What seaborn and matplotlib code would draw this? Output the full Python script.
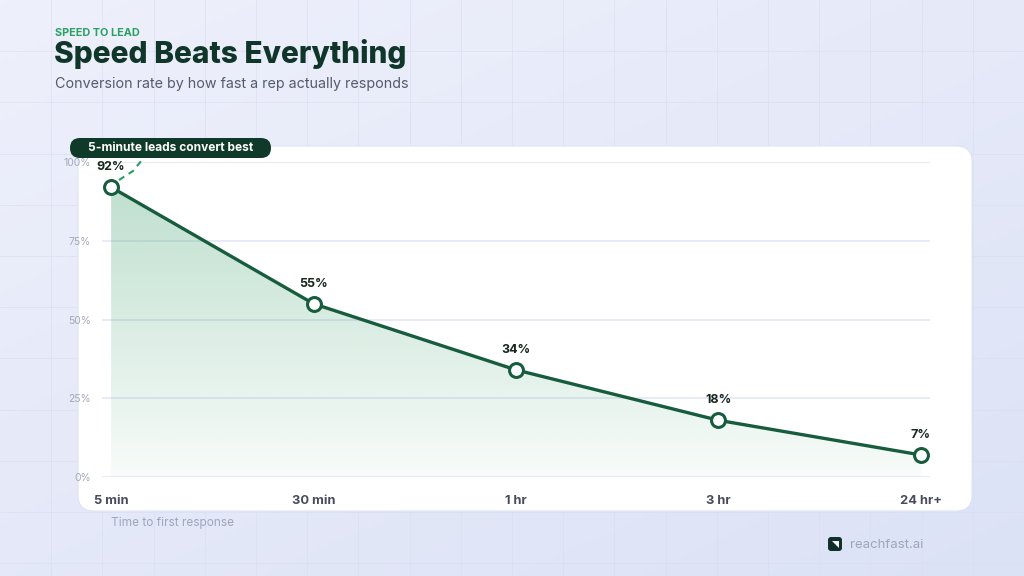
import numpy as np
import pandas as pd
import seaborn as sns
import matplotlib.pyplot as plt
from matplotlib.patches import FancyBboxPatch, Polygon
from matplotlib.colors import to_rgb

# data
times = ['5 min', '30 min', '1 hr', '3 hr', '24 hr+']
conversion = [92, 55, 34, 18, 7]
y_ticks = [0, 25, 50, 75, 100]

df = pd.DataFrame({'pos': range(len(times)), 'time': times, 'rate': conversion})

sns.set_theme(style='white')
plt.rcParams['font.family'] = ['Inter', 'DejaVu Sans']

W, H = 1024, 576
fig = plt.figure(figsize=(W / 100, H / 100), dpi=100)


def px_ax(z):
    a = fig.add_axes([0, 0, 1, 1], zorder=z)
    a.set_xlim(0, W)
    a.set_ylim(H, 0)
    a.axis('off')
    a.patch.set_alpha(0)
    return a


# background: soft gradient + faint grid
bg = px_ax(0)
gx, gy = np.meshgrid(np.linspace(0, 1, 200), np.linspace(0, 1, 120))
t = (gx * 0.45 + gy * 0.55)
c0, c1 = np.array(to_rgb('#eef0fb')), np.array(to_rgb('#dce2f6'))
grad = c0 + (c1 - c0) * t[..., None]
bg.imshow(grad, extent=(0, W, H, 0), aspect='auto', zorder=0)
for gxp in np.arange(51.2, W, 51.2):
    bg.axvline(gxp, color='#d9ddf2', lw=0.6, alpha=0.7, zorder=1)
for gyp in np.arange(51.2, H, 51.2):
    bg.axhline(gyp, color='#d9ddf2', lw=0.6, alpha=0.7, zorder=1)

# white card
card = FancyBboxPatch((78, 146), 894, 365, boxstyle='round,pad=0,rounding_size=16',
                      fc='white', ec='#dfe3f5', lw=0.8, zorder=2)
bg.add_patch(card)

# headings
bg.text(55, 33, 'SPEED TO LEAD', color='#27a062', fontsize=7.8, fontweight='bold', va='center', zorder=3)
bg.text(54, 54, 'Speed Beats Everything', color='#10362a', fontsize=21.5, fontweight='heavy',
        va='center', zorder=3)
bg.text(55, 84, 'Conversion rate by how fast a rep actually responds', color='#545b6b',
        fontsize=10.3, va='center', zorder=3)
bg.text(111, 523, 'Time to first response', color='#9ea6bd', fontsize=8.5, va='center', zorder=3)

# watermark
bg.add_patch(FancyBboxPatch((828, 537), 14, 14, boxstyle='round,pad=0,rounding_size=3',
                            fc='#10302a', ec='none', zorder=3))
bg.add_patch(Polygon([(832, 541), (839, 541), (839, 548)], closed=True, fc='white', ec='none', zorder=4))
bg.text(850, 545, 'reachfast.ai', color='#9ea6bd', fontsize=9.5, va='center', zorder=3)

# main chart
left, right, top, bottom = 102, 930, 162, 477
ax = fig.add_axes([left / W, 1 - bottom / H, (right - left) / W, (bottom - top) / H], zorder=2)
ax.patch.set_alpha(0)

line_c = '#175c3d'
xs = df['pos'].to_numpy()
ys = df['rate'].to_numpy()

# gradient fill under line
gv = np.linspace(0, 1, 256)[:, None]
green = np.array(to_rgb('#3c9f6c'))
img = np.zeros((256, 1, 4))
img[..., :3] = green
img[..., 3] = 0.04 + 0.31 * gv
ax_img = ax.imshow(img, extent=(xs[0], xs[-1], 0, 100), origin='lower', aspect='auto', zorder=1)
clip = Polygon(np.column_stack([np.r_[xs, xs[-1], xs[0]], np.r_[ys, 0, 0]]), closed=True,
               transform=ax.transData, fc='none', ec='none')
ax.add_patch(clip)
ax_img.set_clip_path(clip)

sns.lineplot(data=df, x='pos', y='rate', ax=ax, color=line_c, lw=2.4, marker='o', markersize=10,
             markerfacecolor='white', markeredgecolor=line_c, markeredgewidth=2.2, zorder=4, clip_on=False)

for x, y in zip(xs, ys):
    ax.annotate(f'{y}%', (x, y), xytext=(0, 14.5), textcoords='offset points', ha='center', va='center',
                fontsize=9, fontweight='bold', color='#16261d', zorder=5)

ax.set_xlim(-0.045, 4.045)
ax.set_ylim(0, 100)
ax.set_yticks(y_ticks)
ax.set_yticklabels([f'{v}%' for v in y_ticks])
ax.set_xticks(xs)
ax.set_xticklabels(times)
ax.tick_params(axis='y', length=0, pad=8, labelsize=7.5, labelcolor='#a3a9bb')
ax.tick_params(axis='x', length=0, pad=13, labelsize=9.3, labelcolor='#464c5b')
for lbl in ax.get_xticklabels():
    lbl.set_fontweight('bold')
ax.grid(axis='y', color='#e6e9f7', lw=1.3)
ax.grid(axis='x', visible=False)
ax.set_axisbelow(True)
for s in ax.spines.values():
    s.set_visible(False)
ax.set_xlabel('')
ax.set_ylabel('')

# callout pill on top
top_ax = px_ax(5)
top_ax.plot([119, 133, 146], [180, 171, 155], color='#2a9d60', lw=1.5, ls=(0, (3, 2.5)), zorder=6)
top_ax.add_patch(FancyBboxPatch((70, 138), 201, 20, boxstyle='round,pad=0,rounding_size=10',
                                fc='#0f3a29', ec='none', zorder=7))
top_ax.text(170.5, 148, '5-minute leads convert best', color='white', fontsize=8.6, fontweight='bold',
            ha='center', va='center', zorder=8)

fig.savefig('out.png', dpi=100)
